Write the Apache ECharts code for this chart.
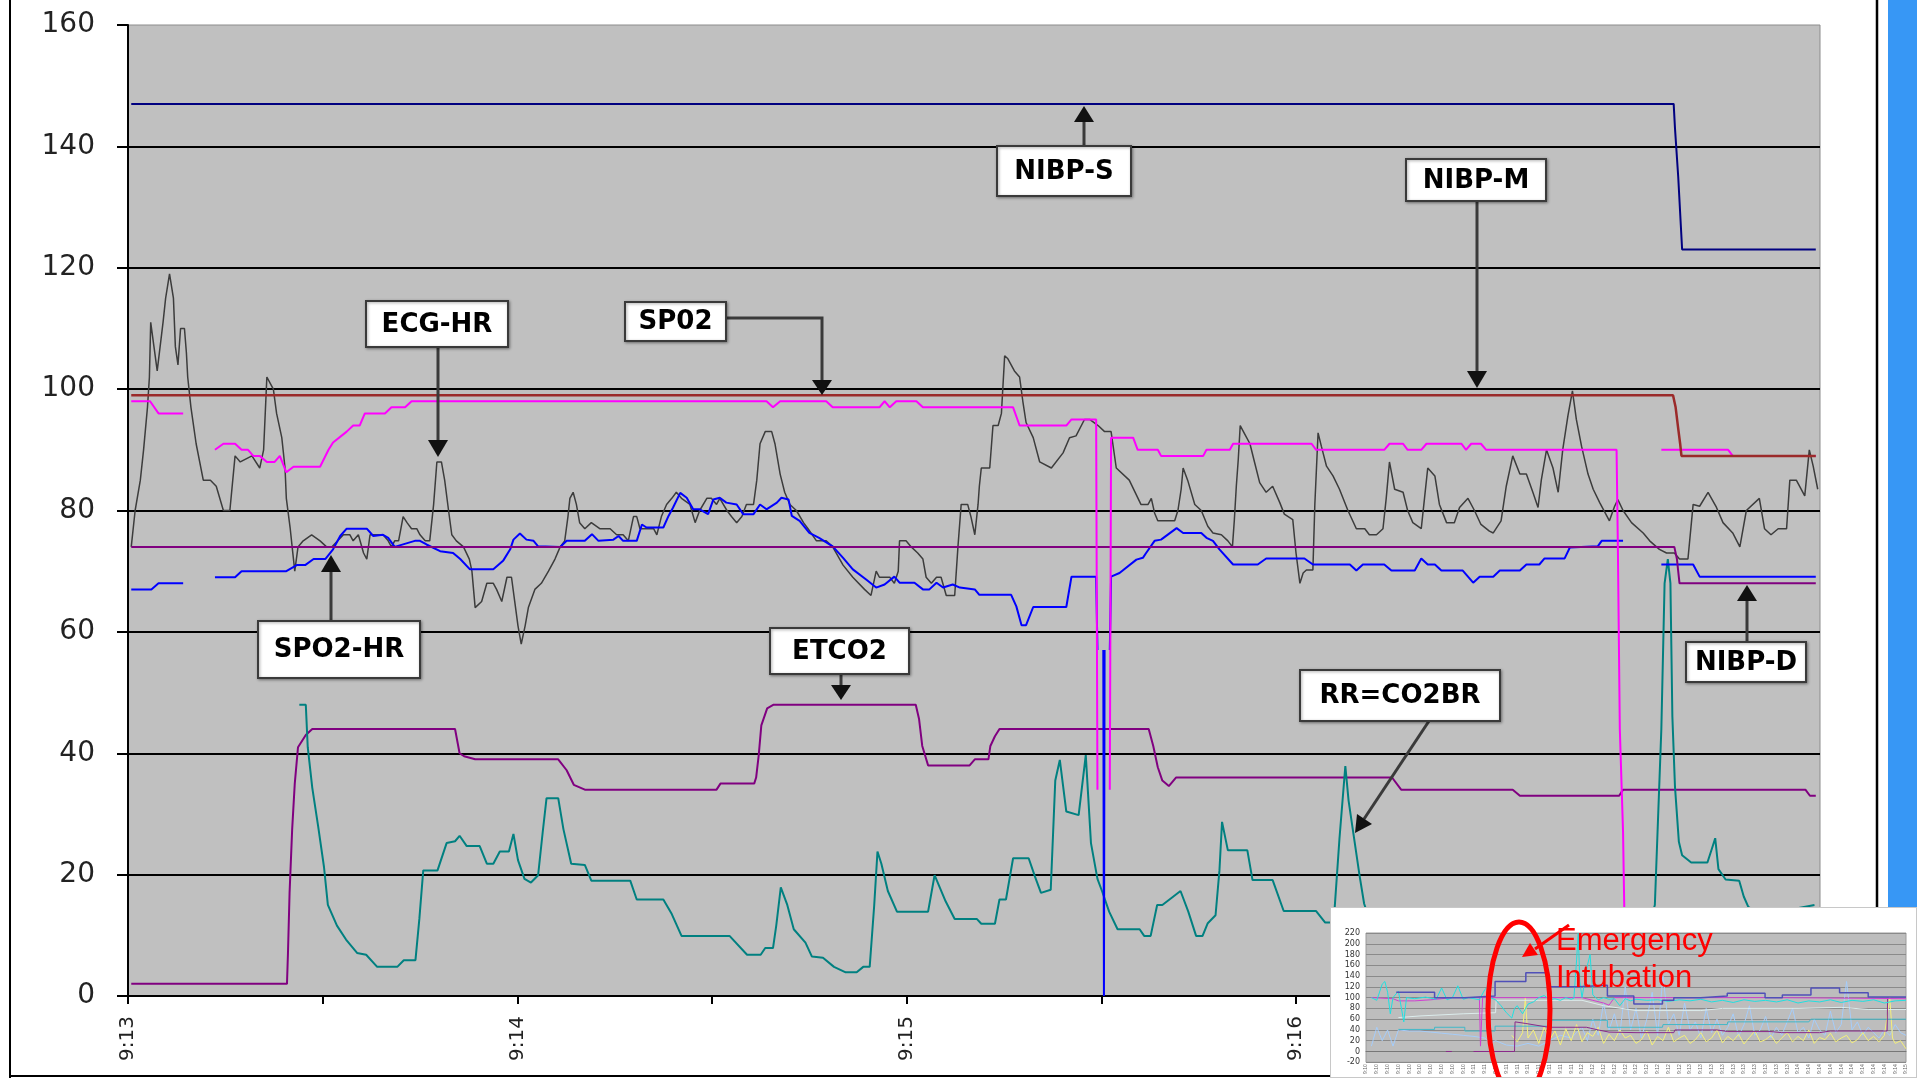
<!DOCTYPE html>
<html>
<head>
<meta charset="utf-8">
<title>Vital signs trend 9:13 - 9:17</title>
<script src="https://cdn.jsdelivr.net/npm/echarts@6/dist/echarts.min.js"></script>
<style>
  html, body { margin: 0; padding: 0; background: #fff; overflow: hidden; }
  #main { width: 1917px; height: 1078px; }
  #inset { position: absolute; left: 1330px; top: 907px; width: 585px; height: 169px;
           border: 1px solid #c8c8c8; background: #fff; }
</style>
</head>
<body>
<div id="main"></div>
<div id="inset"></div>
<script>
// x values are seconds after 9:13:00
var tickSeconds = [0, 30, 60, 90, 120, 150, 180, 210, 240];
var labelSeconds = [0, 60, 120, 180, 240];

// NIBP systolic / mean / diastolic (step lines)
var nibpS = [[0.5,147],[238.2,147],[238.4,143],[238.9,135],[239.3,127],[239.5,123],[260.1,123]];
var nibpM = [[0.5,99],[238.1,99],[238.5,97],[238.9,93.5],[239.2,91],[239.4,89],[260.1,89]];
var nibpD = [[0.5,74],[238.3,74],[238.7,72],[239.1,68],[260.1,68]];

// SPO2 (saturation)
var spo2 = [[0.5,98],[3.4,98],[4.7,96],[8.5,96],[8.6,null],[13.4,90],[14.7,91],[16.5,91],[17.5,90],[18.5,90],
  [19.3,89],[20.3,89],[21.4,88],[22.6,88],[23.4,89],[24.4,86.3],[25.5,87.2],[29.6,87.2],[30.9,90],[31.6,91.2],
  [33.7,93],[34.7,94],[35.7,94],[36.5,96],[39.6,96],[40.6,97],[42.7,97],[43.7,98],[98.4,98],[99.4,97],
  [100.5,98],[107.6,98],[108.6,97],[115.8,97],[116.6,98],[117.4,97],[118.4,98],[121.5,98],[122.5,97],[136.4,97],
  [137.4,94],[144.6,94],[145.4,95],[149.2,95],[149.4,34],[149.5,null],[151.3,34],[151.5,92],[154.9,92],[155.6,90],
  [158.7,90],[159.2,89],[165.7,89],[166.2,90],[169.8,90],[170.3,91],[182.4,91],[183.1,90],[193.6,90],[194.4,91],
  [196.5,91],[197.2,90],[199.3,90],[200.1,91],[205.5,91],[206.2,90],[207.0,91],[208.5,91],[209.3,90],[229.4,90],
  [229.6,74],[229.9,44],[230.4,27],[230.8,0],[230.9,null],[236.3,90],[246.6,90],[247.3,89],[260.1,89]];

// SPO2 pulse rate
var spo2Hr = [[0.5,67],[3.6,67],[4.7,68],[8.5,68],[8.6,null],[13.4,69],[16.5,69],[17.5,70],[24.4,70],[26.0,71],
  [27.3,71],[28.6,72],[30.4,72],[31.6,73.6],[32.7,75.8],[33.7,77],[36.8,77],[37.8,75.8],[39.3,76],[40.1,75.5],
  [41.1,74],[44.2,75],[45.0,75],[46.0,74.4],[48.1,73.3],[50.1,73],[51.2,72],[52.7,70.3],[56.3,70.3],[57.8,71.7],
  [58.9,73.6],[59.4,75.2],[60.4,76.2],[61.4,75.2],[62.5,75],[63.2,74.1],[66.6,74],[67.6,75],[70.4,75],[71.5,76.1],
  [72.5,75],[74.8,75.2],[75.6,75.8],[76.3,75],[78.4,75],[79.2,77.7],[79.9,77.2],[82.5,77.2],[83.3,79.1],[84.0,80.5],
  [85.1,82.9],[86.1,82.1],[87.1,80.2],[88.1,80.2],[89.4,79.4],[90.2,81.8],[91.2,82.1],[92.2,81.3],[93.8,81],[94.8,79.4],
  [96.4,79.4],[97.4,81],[98.4,80.2],[100.0,81.3],[100.7,82.1],[101.8,81.8],[102.3,79.1],[103.5,78.3],[105.0,76.3],[106.5,75.5],
  [108.6,74.1],[110.2,72.2],[111.7,70.3],[113.8,68.6],[115.3,67.3],[116.6,67.8],[118.1,69.1],[118.9,68.1],[121.2,68.1],[122.5,67],
  [123.5,67],[124.6,68.1],[125.6,67.3],[127.1,67.8],[128.2,67.3],[130.5,67],[131.2,66.1],[136.1,66.1],[136.9,64.2],[137.7,61.1],
  [138.4,61.1],[139.5,64.1],[144.6,64.1],[145.4,69.1],[149.2,69.1],[149.4,57],[149.5,null],[150.3,57],[150.4,0],[150.5,57],
  [150.6,null],[151.3,57],[151.5,69.1],[151.8,69.1],[152.8,69.7],[155.4,71.9],[156.4,72.2],[156.9,73],[158.2,75],[159.2,75.2],
  [161.6,77.1],[162.6,76.3],[165.4,76.3],[166.2,75.5],[167.2,75],[168.2,73.6],[170.3,71.1],[174.1,71.1],[175.4,72.1],[181.3,72.1],
  [182.6,71.1],[188.3,71.1],[189.3,70.1],[190.3,71.1],[193.6,71.1],[194.7,70.1],[198.3,70.1],[199.3,72.1],[200.3,71.1],[201.4,71.1],
  [202.4,70.1],[205.7,70.1],[207.3,68.1],[208.3,69.1],[210.4,69.1],[211.4,70.1],[214.5,70.1],[215.5,71.1],[217.5,71.1],[218.3,72.1],
  [221.4,72.1],[222.2,73.9],[226.5,74.1],[227.1,75],[230.4,75],[230.5,null],[236.3,71.1],[241.2,71.1],[242.2,69.1],[260.1,69.1]];

// ECG heart rate
var ecgHr = [[0.5,74],[1.1,80],[1.9,85],[2.4,90],[3.0,97],[3.3,102],[3.5,111],[4.0,107],[4.5,103],[5.4,111],
  [5.8,115],[6.4,119],[7.0,115],[7.3,107],[7.7,104],[8.1,110],[8.7,110],[9.0,106],[9.2,102],[9.7,97],
  [10.5,91],[11.6,85],[12.7,85],[13.6,84],[14.7,80],[15.7,80],[16.5,89],[17.3,88],[19.1,89],[20.3,87],
  [20.9,90],[21.4,102],[21.9,101],[22.4,100],[22.9,96],[23.7,92],[24.2,87],[24.4,82],[25.0,77],[25.5,72],
  [25.7,70],[26.2,74],[27.0,75],[28.3,76],[29.6,75],[30.6,74],[31.4,74],[33.2,76],[34.2,76],[34.7,75],
  [35.5,76],[36.3,73],[36.8,72],[37.3,76],[38.6,76],[39.3,76],[40.1,75],[40.6,74],[41.1,75],[41.7,75],
  [42.4,79],[43.0,78],[43.7,77],[44.5,77],[45.0,76],[45.8,75],[46.5,75],[47.1,81],[47.6,88],[48.3,88],
  [48.8,85],[49.4,80],[49.9,76],[50.6,75],[51.7,74],[52.6,72],[53.0,70],[53.5,64],[54.5,65],[55.3,68],
  [56.3,68],[56.8,67],[57.6,65],[58.4,69],[59.1,69],[59.6,65],[60.1,61],[60.6,58],[61.2,61],[61.7,64],
  [62.7,67],[63.7,68],[64.8,70],[65.8,72],[66.6,74],[67.3,75],[67.8,79],[68.1,82],[68.6,83],[69.1,81],
  [69.6,78],[70.4,77],[71.4,78],[72.7,77],[74.3,77],[75.3,76],[76.3,76],[77.1,75],[77.9,79],[78.4,79],
  [78.9,77],[80.2,77],[81.0,77],[81.5,76],[82.2,79],[83.0,81],[83.8,82],[84.5,83],[85.3,82],[86.6,81],
  [87.4,78],[88.1,80],[89.2,82],[89.9,82],[90.7,81],[91.2,82],[92.3,80],[93.0,79],[93.8,78],[94.6,79],
  [95.3,81],[96.4,81],[96.9,85],[97.4,91],[98.2,93],[99.2,93],[99.7,91],[100.5,86],[101.2,83],[102.0,81],
  [103.0,80],[104.1,78],[104.8,77],[106.1,75],[107.6,75],[108.6,74],[110.2,71],[111.7,69],[113.5,67],[114.5,66],
  [115.3,70],[115.8,69],[116.6,69],[117.4,69],[118.1,68],[118.7,70],[118.9,75],[119.9,75],[120.7,74],[121.7,73],
  [122.5,72],[123.0,69],[123.8,68],[124.6,69],[125.3,69],[126.1,66],[127.4,66],[127.9,74],[128.4,81],[129.4,81],
  [129.9,79],[130.5,76],[131.0,81],[131.2,84],[131.5,87],[132.8,87],[133.3,94],[134.1,94],[134.6,96],[135.1,105.5],
  [135.6,105],[136.6,103],[137.4,102],[137.9,98],[138.4,94.5],[139.5,92],[140.5,88],[142.3,87],[144.1,89.5],[145.1,92],
  [146.1,92.3],[147.4,95],[148.2,95],[149.5,94],[150.5,93],[151.5,93],[152.3,87],[154.3,85],[156.1,81],[157.2,81],
  [157.7,82],[158.2,79.6],[158.7,78.3],[161.3,78.3],[161.8,80],[162.3,83.5],[162.6,87],[163.3,85],[164.4,81],[165.4,80],
  [166.4,77.4],[167.2,76.3],[168.5,76],[169.5,75],[170.2,74],[170.5,78.5],[170.8,84],[171.1,88.4],[171.4,94],[172.1,92.6],
  [172.9,91],[173.6,88],[174.4,84.6],[175.4,83],[176.4,84],[177.5,81.3],[178.2,79.4],[179.5,78.5],[180.0,73],[180.6,68],
  [181.1,69.7],[181.6,70.2],[182.6,70.2],[182.9,81],[183.4,92.8],[183.9,90.6],[184.7,87.3],[185.7,85.7],[186.7,83.5],[188.0,80],
  [189.3,77],[190.6,77],[191.3,76],[192.4,76],[193.4,77],[193.9,82],[194.4,88],[195.2,83.5],[196.5,83],[197.2,80],
  [198.0,78],[199.3,77],[199.8,82],[200.3,87],[201.4,85.7],[202.1,81],[203.2,78],[204.4,78],[205.2,80.5],[206.5,82],
  [207.5,80],[208.5,77.7],[209.8,76.6],[210.4,76.3],[211.6,78.3],[212.4,84],[213.4,89],[214.5,86],[215.5,86],[216.5,83],
  [217.3,80.5],[217.8,85],[218.6,90],[219.6,87],[220.4,83],[221.1,90],[221.9,95.6],[222.6,99.7],[223.2,95],[224.0,90.6],
  [225.0,86],[225.8,83.5],[226.8,81.3],[228.3,78.3],[229.1,80.7],[229.6,81.8],[230.4,80],[231.7,78],[233.5,76.3],[234.5,75],
  [236.0,73.6],[237.1,73],[238.3,73],[239.1,72],[240.4,72],[241.2,81],[242.2,80.7],[243.5,83],[244.8,80.5],[245.8,78],
  [247.3,76.3],[248.4,74],[249.4,80],[251.4,82],[252.2,77],[253.2,76],[254.3,77],[255.6,77],[256.1,85],[257.1,85],
  [258.4,82.4],[259.1,90],[259.7,87.3],[260.4,83.5]];

// End-tidal CO2
var etco2 = [[0.5,2],[24.5,2],[24.65,7],[24.9,17],[25.3,27.5],[25.7,35],[26.2,41],[27.4,43],[28.4,44],[50.4,44],
  [51.1,40],[51.8,39.5],[53.5,39],[66.3,39],[67.6,37.2],[68.7,34.8],[70.4,34],[90.7,34],[91.3,35],[96.5,35],
  [96.8,36],[97.2,39.7],[97.6,44.6],[98.5,47.4],[99.5,48],[121.4,48],[121.9,45.7],[122.4,41.2],[123.3,38],[129.7,38],
  [130.5,39],[132.6,39],[132.9,41.2],[133.6,42.8],[134.3,44],[157.3,44],[158.0,41.2],[158.7,37.7],[159.4,35.5],[160.4,34.6],
  [161.5,36],[194.8,36],[196.2,34],[213.4,34],[214.5,33],[229.8,33],[230.4,34],[258.5,34],[259.2,33],[260.1,33]];

// Respiration rate (RR = CO2BR)
var rrCo2br = [[26.4,48],[27.4,48],[27.7,41],[28.4,34.3],[29.3,28],[30.2,21.3],[30.8,15],[32.2,11.6],[33.6,9.3],[35.3,7.1],
  [36.7,6.8],[38.4,4.8],[41.5,4.8],[42.5,5.9],[44.3,5.9],[44.9,12.7],[45.5,20.7],[47.7,20.7],[49.1,25.2],[50.4,25.5],
  [51.1,26.4],[52.2,24.7],[54.2,24.7],[55.3,21.8],[56.3,21.8],[57.3,23.8],[58.7,23.8],[59.4,26.7],[60.1,22.4],[61.1,19.3],
  [62.1,18.7],[63.2,19.9],[63.9,26.9],[64.5,32.6],[66.3,32.6],[67.1,27.5],[68.3,21.8],[70.4,21.6],[71.4,19],[77.4,19],
  [78.4,15.9],[82.5,15.9],[83.8,13.5],[85.3,9.9],[92.7,9.9],[95.4,6.8],[97.5,6.8],[98.2,7.9],[99.4,7.9],[99.9,11.6],
  [100.6,17.9],[101.6,15],[102.6,11],[104.4,8.8],[105.4,6.5],[107.1,6.3],[108.8,4.8],[110.6,3.9],[112.3,3.9],[113.3,4.8],
  [114.3,4.8],[115.0,15],[115.5,23.8],[116.1,21.8],[117.1,17.3],[118.5,13.9],[123.3,13.9],[124.3,19.9],[126.0,15.6],[127.4,12.7],
  [130.8,12.7],[131.5,11.9],[133.6,11.9],[134.3,15.9],[135.3,15.9],[136.4,22.7],[138.8,22.7],[139.8,19.6],[140.7,17],[142.2,17.5],
  [142.9,35.5],[143.6,38.9],[144.6,30.4],[146.5,29.8],[147.6,39.7],[148.4,25.2],[149.4,19.3],[150.1,17.3],[151.2,13.9],[152.5,11],
  [155.9,11],[156.6,9.9],[157.6,9.9],[158.6,15],[159.4,15],[162.2,17.3],[163.4,13.9],[164.6,9.9],[165.6,9.9],[166.4,12],
  [167.6,13.3],[168.2,20.7],[168.6,28.7],[169.5,24],[172.5,24],[173.3,19.1],[176.4,19.1],[178.1,14],[183.1,14],[184.5,12.1],
  [185.8,12.1],[186.7,26],[187.6,37.9],[188.1,32.2],[188.8,27.1],[189.8,19.8],[190.5,15.2],[191.5,12],[234.5,12],[235.3,15],
  [236.3,44],[236.8,68],[237.3,72],[237.7,68],[238.0,46],[238.4,34.5],[239.0,25.4],[239.5,23.2],[240.9,22],[243.4,22],
  [244.1,24.3],[244.6,26],[245.1,20.9],[246.2,19.2],[248.3,19],[249.0,16.4],[249.7,14.7],[252,13],[255,14],[258.9,14.8],
  [259.9,15]];

// thumbnail of the whole session (inset), x = 0..100 across the session
var thumbNibp = [[5.6,110],[12.7,110],[12.7,100],[18.3,100],[18.3,103],[23.9,103],[23.9,130],[29.6,130],[29.6,146],[33.8,146],
  [33.8,120],[39.4,120],[39.4,123],[44.7,123],[44.7,103],[49.6,103],[49.6,88],[54.9,88],[54.9,95],[57,95],
  [57,100],[62,100],[62,103],[66.9,103],[66.9,108],[73.9,108],[73.9,100],[77.1,100],[77.1,105],[82.4,105],
  [82.4,118],[87.7,118],[87.7,109],[93,109],[93,101],[100,101]];
var thumbHr = [[1,100],[2,95],[3,125],[3.5,130],[4,110],[4.5,70],[5,100],[6,112],[7,55],[7.5,100],[9,98],[11,101],
  [13,97],[14,118],[15,96],[16,100],[17,122],[18,97],[19,100],[20,98],[21,96],[22,115],[22.5,120],[23,100],
  [24,96],[25,85],[26,72],[27,62],[27.5,80],[28,85],[29,70],[30,88],[31,92],[32,100],[33,104],[34,96],
  [35,98],[36,95],[37,100],[38,97],[38.5,99],[39,170],[39.3,220],[39.6,130],[40,100],[41,160],[41.5,180],[42,105],
  [43,96],[44,100],[45,97],[46,98],[47,85],[48,98],[49,94],[50,97],[52,95],[54,96],[56,93],[58,96],
  [60,94],[62,97],[64,92],[66,95],[68,91],[70,96],[72,93],[74,95],[76,92],[78,96],[80,90],[82,94],
  [84,92],[86,96],[88,91],[90,95],[92,93],[94,96],[96,90],[98,94],[100,95]];
var thumbRr = [[1,10],[2,45],[3,20],[4,40],[5,10],[6,40],[8,38],[10,38],[12,36],[14,34],[16,32],[18,30],
  [20,28],[22,25],[23,15],[24,20],[26,12],[28,10],[30,15],[32,10],[34,20],[36,30],[38,25],[40,45],
  [41,20],[42,60],[43,30],[44,90],[45,40],[46,70],[47,30],[48,120],[49,40],[50,80],[51,25],[52,60],
  [53,110],[54,30],[55,140],[56,50],[57,70],[58,30],[59,90],[60,40],[61,55],[62,25],[63,80],[64,35],
  [65,60],[66,30],[67,45],[68,70],[69,28],[70,50],[71,85],[72,30],[73,40],[74,65],[75,25],[76,45],
  [77,30],[78,55],[79,80],[80,35],[81,45],[82,25],[83,60],[84,40],[85,30],[86,75],[87,35],[88,50],
  [89,130],[90,40],[91,55],[92,30],[93,45],[94,35],[95,25],[96,40],[97,30],[98,50],[99,35],[100,30]];
var thumbResp = [[27,30],[28,18],[29,35],[29.5,100],[30,25],[31,40],[32,15],[33,45],[34,22],[35,38],[36,12],[37,42],
  [38,20],[39,50],[40,18],[41,35],[42,28],[43,45],[44,15],[45,32],[46,20],[47,40],[48,25],[49,30],
  [50,15],[51,22],[52,38],[53,12],[54,28],[55,20],[56,45],[57,18],[58,25],[59,30],[60,15],[61,22],
  [62,35],[63,18],[64,25],[65,40],[66,16],[67,28],[68,20],[69,32],[70,14],[71,26],[72,38],[73,18],
  [74,22],[75,30],[76,15],[77,25],[78,35],[79,18],[80,28],[81,20],[82,40],[83,15],[84,26],[85,22],
  [86,34],[87,18],[88,25],[89,30],[90,16],[91,22],[92,35],[93,20],[94,28],[95,18],[96,30],[97,100],
  [97.5,25],[98,15],[99,20],[100,5]];
var thumbEtco2 = [[14.8,0],[15.9,0],[16,null],[19.9,0],[27.5,0],[27.6,55],[29.6,52],[33.8,45],[37,45],[40.8,45],
  [43,40],[45,36],[50,35],[57,35],[57.2,40],[65,40],[67,37],[75,37],[77,35],[84,35],[86,38],[96.5,38],[96.6,100]];
var thumbSpo2 = [[1,100],[5,98],[6,94],[9,94],[12,96],[16,100],[21,100],[21.2,10],[21.6,100],[30,100],[40,100],
  [42,95],[44,90],[45,86],[46,100],[60,100],[75,100],[90,99],[100,98]];
var thumbPale = [[6,63],[10,66],[18,70],[24,72],[24.1,95],[40,95],[44,85],[50,76],[62,76],[66,80],[80,80],
  [88,82],[93,78],[100,78]];
var thumbTeal = [[6,41],[12.7,41],[12.7,45],[18.3,45],[18.3,38],[23.9,38],[23.9,47],[33.8,47],[33.8,58],[44.7,58],
  [44.7,45],[54.9,45],[55,50],[66.9,50],[67,55],[82,55],[82.4,60],[100,60]];

function line(data, color, width, z) {
  return {
    type: 'line', data: data, symbol: 'none', showSymbol: false, connectNulls: false,
    lineStyle: { color: color, width: width }, itemStyle: { color: color }, z: z
  };
}

// callout boxes: text, box rect, shaft polyline, arrow head
var callouts = [
  { text: 'NIBP-S', box: [997, 146, 134, 50], shaft: [[1084, 146], [1084, 121]], head: [[1074, 122], [1094, 122], [1084, 106]] },
  { text: 'NIBP-M', box: [1406, 159, 140, 42], shaft: [[1477, 201], [1477, 372]], head: [[1467, 371], [1487, 371], [1477, 388]] },
  { text: 'ECG-HR', box: [366, 301, 142, 46], shaft: [[438, 347], [438, 441]], head: [[428, 440], [448, 440], [438, 457]] },
  { text: 'SP02', box: [625, 302, 101, 39], shaft: [[726, 318], [822, 318], [822, 381]], head: [[812, 380], [832, 380], [822, 395]] },
  { text: 'SPO2-HR', box: [258, 621, 162, 57], shaft: [[331, 621], [331, 571]], head: [[321, 572], [341, 572], [331, 555]] },
  { text: 'ETCO2', box: [770, 628, 139, 46], shaft: [[841, 674], [841, 686]], head: [[831, 685], [851, 685], [841, 700]] },
  { text: 'RR=CO2BR', box: [1300, 670, 200, 51], shaft: [[1429, 721], [1364, 819]], head: [[1372, 824], [1357, 814], [1355, 833]] },
  { text: 'NIBP-D', box: [1686, 642, 120, 40], shaft: [[1747, 642], [1747, 600]], head: [[1737, 601], [1757, 601], [1747, 585]] }
];

var graphics = [];
callouts.forEach(function (c) {
  graphics.push({ type: 'polyline', z: 100, shape: { points: c.shaft }, style: { stroke: '#3a3a3a', lineWidth: 3, fill: null } });
  graphics.push({ type: 'polygon', z: 100, shape: { points: c.head }, style: { fill: '#111' } });
  graphics.push({
    type: 'rect', z: 101, shape: { x: c.box[0], y: c.box[1], width: c.box[2], height: c.box[3] },
    style: { fill: '#fff', stroke: '#3a3a3a', lineWidth: 2, shadowBlur: 3, shadowOffsetX: 1, shadowOffsetY: 1, shadowColor: 'rgba(0,0,0,0.35)' }
  });
  graphics.push({
    type: 'text', z: 102, x: c.box[0] + c.box[2] / 2, y: c.box[1] + c.box[3] / 2 + 1,
    style: { text: c.text, align: 'center', verticalAlign: 'middle', font: 'bold 26px "DejaVu Sans"', fill: '#000' }
  });
});
// page frame, right edge rule and blue side bar
graphics.push({ type: 'line', z: 90, shape: { x1: 10, y1: 0, x2: 10, y2: 1078 }, style: { stroke: '#000', lineWidth: 2 } });
graphics.push({ type: 'line', z: 90, shape: { x1: 10, y1: 1076, x2: 1330, y2: 1076 }, style: { stroke: '#000', lineWidth: 2 } });
graphics.push({ type: 'line', z: 90, shape: { x1: 1877, y1: 0, x2: 1877, y2: 907 }, style: { stroke: '#000', lineWidth: 2.5 } });
graphics.push({ type: 'rect', z: 90, shape: { x: 1888, y: 0, width: 29, height: 907 }, style: { fill: '#3797f5' } });

var mainChart = echarts.init(document.getElementById('main'));
mainChart.setOption({
  animation: false,
  backgroundColor: '#fff',
  grid: { left: 128, right: 97, top: 25, bottom: 82, show: true, backgroundColor: '#c0c0c0', borderColor: '#8c8c8c', borderWidth: 1 },
  xAxis: {
    type: 'value', min: 0, max: 260.75,
    axisLine: { onZero: false, lineStyle: { color: '#000', width: 2 } },
    axisTick: { customValues: tickSeconds, length: 8, lineStyle: { color: '#000', width: 2 } },
    axisLabel: {
      customValues: labelSeconds, rotate: 90, margin: 20, fontSize: 20, fontFamily: 'DejaVu Sans', color: '#222',
      formatter: function (v) { return '9:' + (13 + Math.round(v / 60)); }
    },
    splitLine: { show: false }
  },
  yAxis: {
    type: 'value', min: 0, max: 160, interval: 20,
    axisLine: { show: true, lineStyle: { color: '#000', width: 2 } },
    axisTick: { show: true, length: 11, lineStyle: { color: '#000', width: 2 } },
    axisLabel: { margin: 33, fontSize: 28, fontFamily: 'DejaVu Sans', color: '#222' },
    splitLine: { show: true, showMaxLine: false, lineStyle: { color: '#000', width: 2 } }
  },
  series: [
    line(etco2, '#800080', 2, 3),
    line(rrCo2br, '#008080', 2, 3),
    line(ecgHr, '#3c3c3c', 1.5, 4),
    line(spo2Hr, '#0000ff', 2, 5),
    line(nibpD, '#800080', 2, 6),
    line(spo2, '#ff00ff', 2, 6),
    line(nibpM, '#9b2a2a', 2.5, 7),
    line(nibpS, '#000080', 2, 7)
  ],
  graphic: graphics
});

// inset thumbnail with the intubation marker
var insetChart = echarts.init(document.getElementById('inset'));
insetChart.setOption({
  animation: false,
  backgroundColor: '#fff',
  grid: { left: 35, right: 10, top: 25, bottom: 7, show: true, backgroundColor: '#bdbdbd', borderColor: '#9a9a9a', borderWidth: 1 },
  xAxis: {
    type: 'value', min: 0, max: 100, interval: 2,
    axisLine: { onZero: true, lineStyle: { color: '#777', width: 1 } },
    axisTick: { show: false },
    axisLabel: { rotate: 90, fontSize: 5, color: '#666', margin: 2, formatter: function (v) { return '9:1' + Math.floor(v / 20); } },
    splitLine: { show: false }
  },
  yAxis: {
    type: 'value', min: -20, max: 220, interval: 20,
    axisLine: { show: false }, axisTick: { show: false },
    axisLabel: { fontSize: 8, color: '#333', margin: 6, fontFamily: 'DejaVu Sans' },
    splitLine: { lineStyle: { color: '#8a8a8a', width: 1 } }
  },
  series: [
    line(thumbRr, '#a6cdfa', 1, 2),
    line(thumbResp, '#f5f07a', 1, 3),
    line(thumbPale, '#dcecec', 1, 3),
    line(thumbTeal, '#40b8c8', 1, 3),
    line(thumbEtco2, '#8a2a8a', 1, 4),
    line(thumbSpo2, '#d040d0', 1, 4),
    line(thumbHr, '#20e0e0', 1, 5),
    line(thumbNibp, '#5050b8', 1.5, 6)
  ],
  graphic: [
    { type: 'ellipse', z: 100, shape: { cx: 188, cy: 102, rx: 31, ry: 88 }, style: { fill: null, stroke: '#ff0000', lineWidth: 5 } },
    { type: 'line', z: 100, shape: { x1: 238, y1: 17, x2: 204, y2: 41 }, style: { stroke: '#ff0000', lineWidth: 3 } },
    { type: 'polygon', z: 100, shape: { points: [[207, 47], [199, 35], [191, 49]] }, style: { fill: '#ff0000' } },
    { type: 'text', z: 101, x: 225, y: 33, style: { text: 'Emergency', verticalAlign: 'middle', font: '31px "Liberation Sans"', fill: '#ff0000' } },
    { type: 'text', z: 101, x: 225, y: 70, style: { text: 'Intubation', verticalAlign: 'middle', font: '31px "Liberation Sans"', fill: '#ff0000' } }
  ]
});
</script>
</body>
</html>
